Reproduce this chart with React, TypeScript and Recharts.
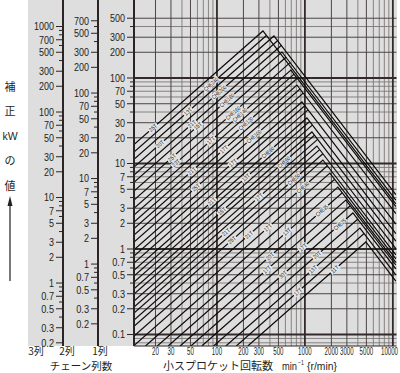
import React from 'react';
import { ComposedChart, Line, XAxis, YAxis, CartesianGrid, ReferenceDot } from 'recharts';

const SANS = "'Liberation Sans', Arial, sans-serif";
const JP = "'Noto Sans CJK JP', 'Noto Sans CJK SC', sans-serif";

// plot ranges: small sprocket rpm and 1-strand kW
const rpmDomain: [number, number] = [11.4, 11000];
const kwDomain: [number, number] = [0.0734, 817];
const twoRowDomain: [number, number] = [0.1101, 1225.5];
const threeRowDomain: [number, number] = [0.1835, 2042];

const rpmTicks = [20, 30, 50, 100, 200, 300, 500, 1000, 2000, 3000, 5000, 10000];
const rpmGridLight = [40, 60, 70, 80, 90, 400, 600, 700, 800, 900, 4000, 6000, 7000, 8000, 9000];
const rpmGridDark = [20, 30, 50, 200, 300, 500, 2000, 3000, 5000];
const rpmGridMain = [100, 1000, 10000];
const kwGridLight = [0.08, 0.09, 0.4, 0.6, 0.7, 0.8, 0.9, 4, 6, 7, 8, 9, 40, 60, 70, 80, 90, 400];
const kwGridDark = [0.2, 0.3, 0.5, 2, 3, 5, 20, 30, 50, 200, 300, 500];
const kwGridMain = [0.1, 1, 10, 100];

const oneRowTicks = [500, 300, 200, 100, 70, 50, 30, 20, 10, 7, 5, 3, 2, 1, 0.7, 0.5, 0.3, 0.2, 0.1];
const oneRowMinor = [400, 90, 80, 60, 40, 9, 8, 6, 4, 0.9, 0.8, 0.6, 0.4];
const twoRowTicks = [700, 500, 300, 200, 100, 70, 50, 30, 20, 10, 7, 5, 3, 2, 1, 0.7, 0.5, 0.3, 0.2];
const twoRowMinor = [600, 400, 90, 80, 60, 40, 9, 8, 6, 4, 0.9, 0.8, 0.6, 0.4];
const threeRowTicks = [1000, 700, 500, 300, 200, 100, 70, 50, 30, 20, 10, 7, 5, 3, 2, 1, 0.7, 0.5, 0.3, 0.2];
const threeRowMinor = [900, 800, 600, 400, 90, 80, 60, 40, 9, 8, 6, 4, 0.9, 0.8, 0.6, 0.4];

// [rpm, kW]: start, peak, end of each rating tent
const chainTents: [number, number][][] = [
  [[11.4, 16.68], [333.3, 354.6], [10817, 3.37]],
  [[11.4, 11.22], [444.4, 310.0], [10817, 4.33]],
  [[11.4, 6.03], [547.7, 201.4], [10817, 3.72]],
  [[11.4, 3.0], [693.1, 124.0], [10817, 3.14]],
  [[11.4, 1.737], [811.1, 82.8], [10817, 2.59]],
  [[11.4, 0.976], [924.6, 52.4], [10817, 1.95]],
  [[11.4, 0.5634], [1054, 34.06], [10817, 1.51]],
  [[11.4, 0.3433], [1201, 23.36], [10817, 1.234]],
  [[11.4, 0.2092], [1369, 16.02], [10817, 1.008]],
  [[11.4, 0.1247], [1602, 10.99], [10817, 0.853]],
  [[11.4, 0.0744], [1923, 7.74], [10817, 0.768]],
  [[20.96, 0.07336], [2371, 5.31], [10817, 0.697]],
  [[38.09, 0.07336], [2923, 3.74], [10817, 0.65]],
  [[67.21, 0.07336], [3512, 2.64], [10817, 0.585]],
  [[126.2, 0.07336], [4217, 1.76], [10817, 0.499]],
  [[224.2, 0.07336], [4934, 1.21], [10817, 0.422]],
];

// rising lines that stop on a falling line
const toothLines: [number, number][][] = [
  [[11.4, 13.6], [364.9, 314.1]],
  [[11.4, 9.08], [488.4, 273.2]],
  [[11.4, 7.32], [537.7, 239.9]],
  [[11.4, 4.755], [609.2, 174.7]],
  [[11.4, 3.73], [678.7, 151.4]],
  [[11.4, 2.49], [753.3, 111.1]],
  [[11.4, 2.063], [819.4, 99.2]],
  [[11.4, 1.454], [878.6, 74.35]],
  [[11.4, 1.204], [955.5, 66.6]],
  [[11.4, 0.826], [996.4, 47.4]],
  [[11.4, 0.684], [1083.7, 42.4]],
  [[11.4, 0.482], [1130.3, 30.99]],
  [[11.4, 0.41], [1214.6, 28.13]],
  [[11.4, 0.2969], [1282.3, 21.43]],
  [[11.4, 0.2459], [1394.4, 19.13]],
  [[11.4, 0.1779], [1471.6, 14.54]],
  [[11.4, 0.1474], [1601.0, 12.99]],
  [[11.4, 0.0958], [1800.6, 9.4]],
  [[15.38, 0.07336], [2184.0, 6.535]],
  [[27.87, 0.07336], [2660.3, 4.555]],
  [[50.52, 0.07336], [3279.1, 3.21]],
  [[91.58, 0.07336], [3976.8, 2.231]],
  [[165.96, 0.07336], [4709.6, 1.518]],
];

const chainTags: [number, number, string][] = [
  [85.45, 84.4, 'CHE240'],
  [105.4, 68.03, 'CHE200'],
  [129.9, 54.7, 'CHE180'],
  [152.0, 38.96, 'CHE160'],
  [182.5, 37.02, 'CHE140'],
  [213.5, 29.36, 'CHE120'],
  [263.4, 20.69, 'CHE100'],
  [379.8, 13.49, 'CHE80'],
  [577.2, 10.38, 'CHE60'],
  [749.9, 6.535, 'CHE50'],
  [949.1, 5.254, 'CHE40'],
  [1560.6, 2.813, 'CHE35'],
  [2498, 1.94, 'CHE25'],
];

const toothTags: [number, number, string][] = [
  [18.74, 26.16, '25T'],
  [22.51, 16.82, '20T'],
  [46.83, 40.35, '13T'],
  [51.97, 28.97, '21T'],
  [60.82, 27.46, '15T'],
  [30.81, 11.72, '25T'],
  [34.2, 10.11, '23T'],
  [85.45, 18.63, '17T'],
  [51.97, 8.17, '21T'],
  [120.1, 14.66, '17T'],
  [57.72, 5.24, '25T'],
  [152.0, 10.19, '17T'],
  [87.73, 3.584, '21T'],
  [213.5, 6.86, '13T'],
  [114.0, 2.768, '15T'],
  [300.2, 4.046, '17T'],
  [126.6, 1.576, '21T'],
  [148.1, 1.274, '25T'],
  [231.0, 1.462, '21T'],
  [379.8, 1.779, '17T'],
  [624.4, 1.589, '13T'],
  [370.1, 0.5757, '17T'],
  [400.2, 0.8192, '20T'],
  [949.1, 1.044, '17T'],
  [562.3, 0.5019, '30T'],
  [1369, 0.851, '20T'],
  [832.6, 0.3157, '17T'],
  [1232.8, 0.5773, '13T'],
  [2192, 0.5789, '11T'],
];

const toPoints = (pts: [number, number][]) => pts.map(([rpm, kw]) => ({ rpm, kw }));

// condensed number width (the original uses a narrow face)
const numWidth = (s: string, digit: number) =>
  [...s].reduce((w, ch) => w + (ch === '.' ? digit * 0.55 : digit), 0);

const makeYTick = (major: number[]) => (props: any) => {
  const { x, y, payload } = props;
  const isMajor = major.includes(payload.value);
  const label = String(payload.value);
  return (
    <g>
      <line x1={isMajor ? x + 2 : x + 5} x2={x + 9} y1={y} y2={y} stroke="#2b2525" strokeWidth={1} />
      {isMajor && (
        <text
          x={x}
          y={y}
          dy={3.8}
          textAnchor="end"
          fontSize={11}
          fontFamily={SANS}
          fill="#231f20"
          textLength={numWidth(label, 5)}
          lengthAdjust="spacingAndGlyphs"
        >
          {label}
        </text>
      )}
    </g>
  );
};

const XTick = (props: any) => {
  const label = String(props.payload.value);
  const w = numWidth(label, 3.4);
  const cx = Math.min(props.x, 398 - w / 2);
  return (
    <text
      x={cx}
      y={props.y + 9}
      textAnchor="middle"
      fontSize={10}
      fontFamily={SANS}
      fill="#231f20"
      textLength={w}
      lengthAdjust="spacingAndGlyphs"
    >
      {label}
    </text>
  );
};

const Tag = ({ cx, cy, text }: { cx: number; cy: number; text: string }) => {
  const w = text.length * 2.9 + 2;
  return (
    <g transform={`translate(${cx},${cy}) rotate(-41.3)`}>
      <rect x={-w / 2} y={-2.8} width={w} height={5.6} fill="#e9e9e9" />
      <text
        x={0}
        y={2}
        textAnchor="middle"
        fontSize={5.8}
        fontFamily={SANS}
        fill="#1a1a1a"
        textLength={w - 2}
        lengthAdjust="spacingAndGlyphs"
      >
        {text}
      </text>
    </g>
  );
};

const axisCommon = {
  type: 'number' as const,
  scale: 'log' as const,
  allowDataOverflow: true,
  interval: 0 as const,
  tickSize: 7,
  tickMargin: 2,
  tickLine: false,
  axisLine: { stroke: '#2b2525', strokeWidth: 2 },
};

const App = () => {
  return (
    <div style={{ position: 'fixed', left: 0, top: 0, width: 400, height: 373, background: '#fff' }}>
      <div style={{ position: 'absolute', left: 28, top: 0, width: 368.5, height: 346, background: '#dedede' }} />
      <div style={{ position: 'absolute', left: 0, top: 0 }}>
        <ComposedChart width={400} height={373} margin={{ top: 0, right: 3.5, bottom: 7, left: 28 }}>
          <CartesianGrid yAxisId="r1" horizontalValues={kwGridLight} verticalValues={rpmGridLight} stroke="#7d7777" strokeWidth={0.9} fill="none" />
          <CartesianGrid yAxisId="r1" horizontalValues={kwGridDark} verticalValues={rpmGridDark} stroke="#4c4545" strokeWidth={1} fill="none" />
          <CartesianGrid yAxisId="r1" horizontalValues={kwGridMain} verticalValues={rpmGridMain} stroke="#332b2b" strokeWidth={1.8} fill="none" />
          <XAxis
            dataKey="rpm"
            type="number"
            scale="log"
            domain={rpmDomain}
            allowDataOverflow
            ticks={rpmTicks}
            interval={0}
            height={20}
            tickSize={0}
            tickMargin={0}
            tickLine={false}
            axisLine={{ stroke: '#2b2525', strokeWidth: 1 }}
            tick={XTick}
          />
          <YAxis
            yAxisId="r1"
            {...axisCommon}
            domain={kwDomain}
            ticks={[...oneRowTicks, ...oneRowMinor]}
            width={36}
            tick={makeYTick(oneRowTicks)}
          />
          <YAxis
            yAxisId="r2"
            {...axisCommon}
            domain={twoRowDomain}
            ticks={[...twoRowTicks, ...twoRowMinor]}
            width={35}
            tick={makeYTick(twoRowTicks)}
          />
          <YAxis
            yAxisId="r3"
            {...axisCommon}
            domain={threeRowDomain}
            ticks={[...threeRowTicks, ...threeRowMinor]}
            width={35}
            tick={makeYTick(threeRowTicks)}
          />
          {chainTents.map((pts, i) => (
            <Line
              key={`tent-${i}`}
              yAxisId="r1"
              data={toPoints(pts)}
              dataKey="kw"
              stroke="#0f0b0b"
              strokeWidth={1.2}
              dot={false}
              activeDot={false}
              isAnimationActive={false}
            />
          ))}
          {toothLines.map((pts, i) => (
            <Line
              key={`tooth-${i}`}
              yAxisId="r1"
              data={toPoints(pts)}
              dataKey="kw"
              stroke="#0f0b0b"
              strokeWidth={1.2}
              dot={false}
              activeDot={false}
              isAnimationActive={false}
            />
          ))}
          {[...chainTags, ...toothTags].map(([rpm, kw, text], i) => (
            <ReferenceDot
              key={`tag-${i}`}
              yAxisId="r1"
              x={rpm}
              y={kw}
              r={0}
              ifOverflow="visible"
              shape={(p: any) => <Tag cx={p.cx} cy={p.cy} text={text} />}
            />
          ))}
        </ComposedChart>
      </div>
      <svg width={400} height={373} style={{ position: 'absolute', left: 0, top: 0, pointerEvents: 'none' }}>
        <g fontFamily={JP} fontSize={11} fill="#231f20" textAnchor="middle">
          <text x={10} y={91}>補</text>
          <text x={10} y={115}>正</text>
          <text x={10} y={140} fontFamily={SANS} fontSize={10.5}>kW</text>
          <text x={10} y={165}>の</text>
          <text x={10} y={190}>値</text>
          <text x={36} y={354.5} fontSize={10}>3列</text>
          <text x={67} y={354.5} fontSize={10}>2列</text>
          <text x={100} y={354.5} fontSize={10}>1列</text>
          <text x={81} y={370} fontSize={10.5}>チェーン列数</text>
        </g>
        <line x1={10} y1={281} x2={10} y2={202} stroke="#231f20" strokeWidth={1.2} />
        <polygon points="10,196 7.5,206 12.5,206" fill="#231f20" />
        <text x={163} y={370} fontFamily={JP} fontSize={11} fill="#231f20">小スプロケット回転数</text>
        <text x={282} y={370} fontFamily={SANS} fontSize={10.5} fill="#231f20" textLength={15} lengthAdjust="spacingAndGlyphs">min</text>
        <text x={298} y={365} fontFamily={SANS} fontSize={6.5} fill="#231f20" textLength={6} lengthAdjust="spacingAndGlyphs">−1</text>
        <text x={307} y={370} fontFamily={SANS} fontSize={10.5} fill="#231f20" textLength={30} lengthAdjust="spacingAndGlyphs">{'{r/min}'}</text>
      </svg>
    </div>
  );
};

export default App;
